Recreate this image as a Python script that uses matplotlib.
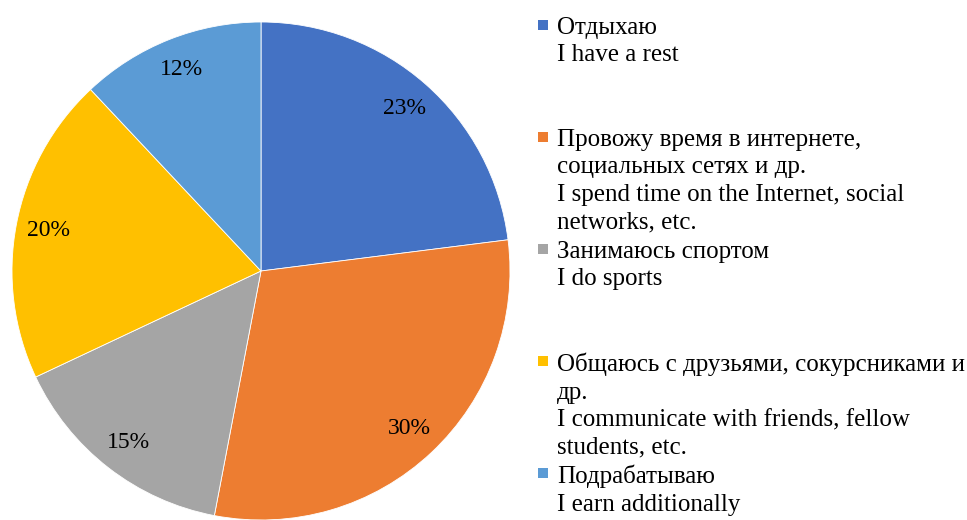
import matplotlib.pyplot as plt
from matplotlib.patches import Rectangle

plt.rcParams['font.family'] = ['Liberation Serif', 'DejaVu Serif']

# data
labels = [
    "Отдыхаю\nI have a rest",
    "Провожу время в интернете,\nсоциальных сетях и др.\nI spend time on the Internet, social\nnetworks, etc.",
    "Занимаюсь спортом\nI do sports",
    "Общаюсь с друзьями, сокурсниками и\nдр.\nI communicate with friends, fellow\nstudents, etc.",
    "Подрабатываю\nI earn additionally",
]
shares = [23, 30, 15, 20, 12]
colors = ['#4472C4', '#ED7D31', '#A5A5A5', '#FFC000', '#5B9BD5']

W, H = 967, 520
fig = plt.figure(figsize=(W / 100, H / 100), dpi=100)

# pie centre and radius in pixels
cx, cy, r = 261, 271, 249
ax = fig.add_axes([(cx - r) / W, (H - cy - r) / H, 2 * r / W, 2 * r / H])
ax.pie(shares, colors=colors, startangle=90, counterclock=False,
       autopct='%d%%', pctdistance=0.87,
       wedgeprops=dict(edgecolor='white', linewidth=0.6),
       textprops=dict(fontsize=17, color='black'))
ax.set_xlim(-1, 1)
ax.set_ylim(-1, 1)
ax.set_aspect('equal')
ax.axis('off')

# legend, one slot of equal height per entry
top0 = 17
step = 112
for i, (lab, col) in enumerate(zip(labels, colors)):
    ytop = top0 + i * step
    fig.text(557 / W, 1 - ytop / H, lab, fontsize=18, va='top', ha='left',
             linespacing=1.32)
    fig.add_artist(Rectangle((538 / W, 1 - (ytop + 13) / H), 10 / W, 10 / H,
                             transform=fig.transFigure, color=col, lw=0))

fig.savefig('out.png', dpi=100)
